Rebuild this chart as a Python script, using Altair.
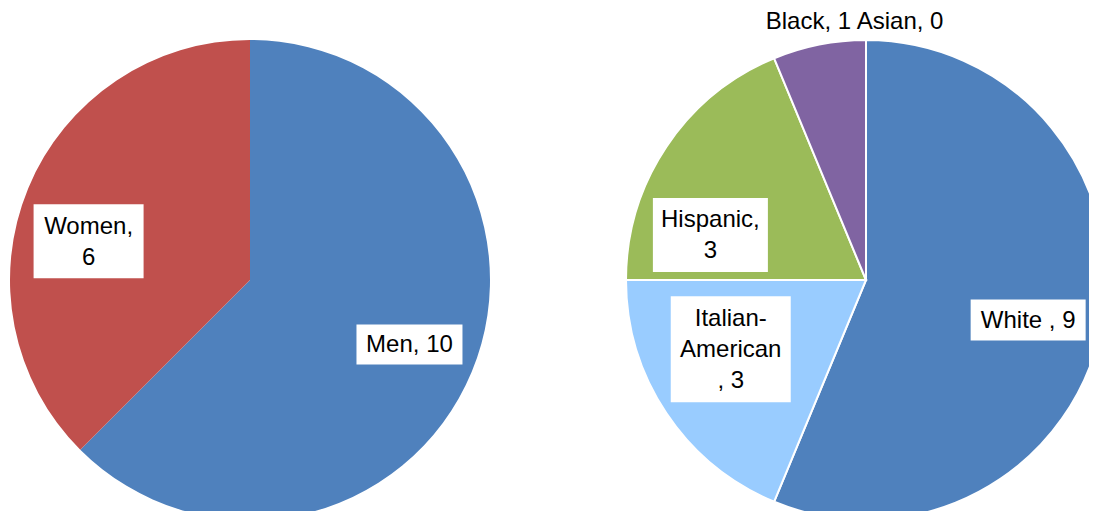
import math
import altair as alt
import pandas as pd

# ---- data ----
gender_categories = ["Men", "Women"]
gender_values = [10, 6]
gender_labels = ["Men, 10", "Women,\n6"]
gender_colors = ["#4F81BD", "#C0504D"]

race_categories = ["White", "Italian-American", "Hispanic", "Black", "Asian"]
race_values = [9, 3, 3, 1, 0]
race_labels = ["White , 9", "Italian-\nAmerican\n, 3", "Hispanic,\n3", "Black, 1", "Asian, 0"]
race_colors = ["#4F81BD", "#99CCFF", "#9BBB59", "#8064A2", "#4BACC6"]

# ---- layout (pixels within the chart) ----
W, H = 1081, 503
R = 240
left_center = (242, 272)
right_center = (858, 272)
# label placement: (radius from centre, angle nudge in degrees, box width, box height)
gender_label_layout = {
    "Men": (172, -0.5, 106, 40),
    "Women": (166, -9.0, 110, 74),
}
race_label_layout = {
    "White": (167, 2.6, 115, 41),
    "Italian-American": (152, 6.6, 120, 106),
    "Hispanic": (162, -17.6, 115, 74),
    "Black": (265, -1.3, 0, 0),
    "Asian": (261, 7.5, 0, 0),
}
FONT = "Liberation Sans"
FONT_SIZE = 24
LINE_H = 31


def build(categories, values, labels, colors, layout, center):
    total = sum(values)
    rows, lab_rows = [], []
    cum = 0.0
    for i, (c, v, l, col) in enumerate(zip(categories, values, labels, colors)):
        rows.append({"category": c, "value": v, "color": col, "idx": i})
        mid = (cum + v / 2) / total * 360
        cum += v
        r, nudge, bw, bh = layout[c]
        a = math.radians(mid + nudge)
        lx = center[0] + r * math.sin(a)
        ly = center[1] - r * math.cos(a)
        n_lines = l.count("\n") + 1
        lab_rows.append({
            "category": c, "label": l, "lx": lx,
            "ty": ly - (n_lines - 1) / 2 * LINE_H + 1,
            "x1": lx - bw / 2, "x2": lx + bw / 2,
            "y1": ly - bh / 2, "y2": ly + bh / 2, "box": bw > 0,
        })
    return pd.DataFrame(rows), pd.DataFrame(lab_rows)


def pie(df, center, stroke):
    kw = dict(stroke="white", strokeWidth=2) if stroke else dict(strokeWidth=0)
    return alt.Chart(df).mark_arc(**kw).encode(
        theta=alt.Theta("value:Q", stack=True),
        color=alt.Color("color:N", scale=None, legend=None),
        order=alt.Order("idx:Q"),
        x=alt.value(center[0]),
        y=alt.value(center[1]),
        radius=alt.value(R),
    )


def labels(ldf):
    boxes = alt.Chart(ldf).transform_filter("datum.box").mark_rect(color="white").encode(
        x=alt.X("x1:Q", scale=None), x2="x2:Q",
        y=alt.Y("y1:Q", scale=None), y2="y2:Q",
    )
    texts = alt.Chart(ldf).mark_text(
        font=FONT, fontSize=FONT_SIZE, color="black", align="center",
        baseline="middle", lineBreak="\n", lineHeight=LINE_H,
    ).encode(
        x=alt.X("lx:Q", scale=None), y=alt.Y("ty:Q", scale=None), text="label:N",
    )
    return boxes + texts


gdf, gl = build(gender_categories, gender_values, gender_labels, gender_colors,
                gender_label_layout, left_center)
rdf, rl = build(race_categories, race_values, race_labels, race_colors,
                race_label_layout, right_center)

chart = alt.layer(
    pie(gdf, left_center, False),
    pie(rdf, right_center, True),
    labels(gl),
    labels(rl),
).resolve_scale(theta="independent").properties(
    width=W, height=H, padding=0, autosize=alt.AutoSizeParams(type="none"),
).configure_view(stroke=None)

chart.save("out.html", embed_options={"renderer": "svg", "actions": False})
